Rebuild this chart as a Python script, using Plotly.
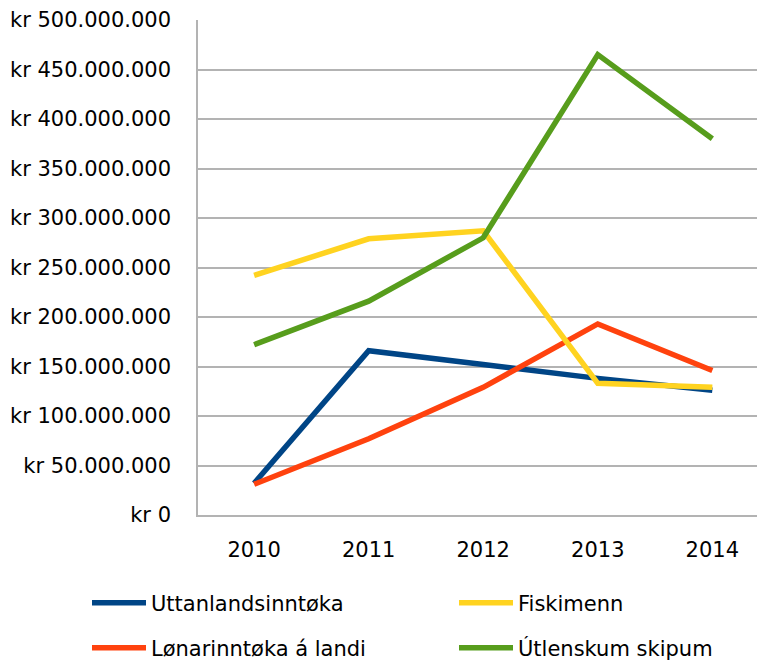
import plotly.graph_objects as go

years = ["2010", "2011", "2012", "2013", "2014"]
uttanlands = [32e6, 166e6, 152e6, 138e6, 126e6]
lonar = [31e6, 77e6, 129e6, 193e6, 146e6]
fiskimenn = [242e6, 279e6, 287e6, 133e6, 129e6]
utlenskum = [172e6, 216e6, 280e6, 465e6, 380e6]

names = ["Uttanlandsinntøka", "Lønarinntøka á landi", "Fiskimenn", "Útlenskum skipum"]
colors = ["#004586", "#ff420e", "#ffd320", "#579d1c"]
legends = ["legend", "legend2", "legend3", "legend4"]

tick_vals = [0, 50e6, 100e6, 150e6, 200e6, 250e6, 300e6, 350e6, 400e6, 450e6, 500e6]
tick_text = ["kr 0", "kr 50.000.000", "kr 100.000.000", "kr 150.000.000", "kr 200.000.000",
             "kr 250.000.000", "kr 300.000.000", "kr 350.000.000", "kr 400.000.000",
             "kr 450.000.000", "kr 500.000.000"]

FONT = "DejaVu Sans"
FS = 21
W, H = 757, 661

fig = go.Figure()
for name, vals, col, lg in zip(names, [uttanlands, lonar, fiskimenn, utlenskum], colors, legends):
    fig.add_trace(go.Scatter(x=years, y=vals, name=name, mode="lines",
                             line=dict(color=col, width=5.5), legend=lg, showlegend=True))

grid = "#b3b3b3"


def leg(px, py):
    return dict(orientation="h", xref="container", yref="container",
                x=(px - 6) / W, y=1 - py / H,
                xanchor="left", yanchor="middle", itemwidth=54,
                font=dict(size=FS), bgcolor="rgba(0,0,0,0)")


fig.update_layout(
    width=W, height=H, showlegend=True,
    margin=dict(l=198, r=0, t=20, b=H - 515, pad=0),
    paper_bgcolor="white", plot_bgcolor="white",
    font=dict(family=FONT, size=FS, color="#000000"),
    xaxis=dict(type="category", range=[-0.49, 4.39], showgrid=False, showline=True,
               linecolor=grid, linewidth=1.5, ticks="", ticklabelstandoff=15,
               tickfont=dict(size=FS)),
    yaxis=dict(range=[0, 500e6], tickvals=tick_vals, ticktext=tick_text, showgrid=True,
               gridcolor=grid, gridwidth=1.5, showline=True, linecolor=grid, linewidth=1.5,
               zeroline=False, ticks="", ticklabelstandoff=21, tickfont=dict(size=FS)),
    legend=leg(93, 603),
    legend2=leg(93, 648),
    legend3=leg(460, 603),
    legend4=leg(460, 648),
)

fig.write_html(
    "out.html",
    config={"displayModeBar": False},
    post_script=("document.body.style.margin='0';"
                 "document.body.style.overflow='hidden';"
                 "document.documentElement.style.overflow='hidden';"),
)
